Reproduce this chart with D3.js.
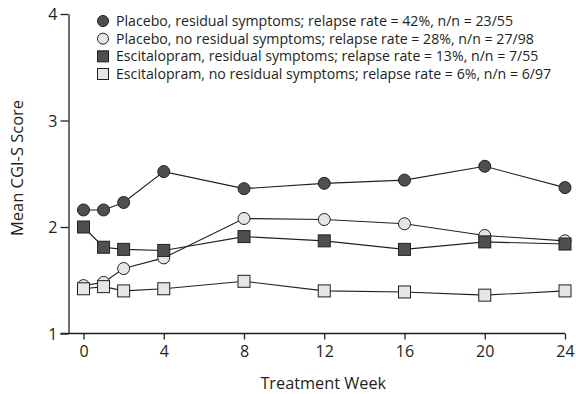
<!DOCTYPE html>
<html><head><meta charset="utf-8">
<script src="https://cdn.jsdelivr.net/npm/d3@7"></script>
<style>
html,body{margin:0;padding:0;background:#fff;}
svg{display:block;font-family:"Open Sans",sans-serif;}
</style></head>
<body>
<svg id="chart" width="576" height="394"></svg>
<script>
const weeks = [0,1,2,4,8,12,16,20,24];
const xTicks = [0,4,8,12,16,20,24];
const yTicks = [1,2,3,4];
const placeboResidual   = [2.16,2.16,2.23,2.52,2.36,2.41,2.44,2.57,2.37];
const placeboNoResidual = [1.45,1.48,1.61,1.71,2.08,2.07,2.03,1.92,1.87];
const escResidual       = [2.00,1.81,1.79,1.78,1.91,1.87,1.79,1.86,1.84];
const escNoResidual     = [1.42,1.44,1.40,1.42,1.49,1.40,1.39,1.36,1.40];
const seriesNames = [
  "Placebo, residual symptoms; relapse rate = 42%, n/n = 23/55",
  "Placebo, no residual symptoms; relapse rate = 28%, n/n = 27/98",
  "Escitalopram, residual symptoms; relapse rate = 13%, n/n = 7/55",
  "Escitalopram, no residual symptoms; relapse rate = 6%, n/n = 6/97"
];

const series = [
  {name: seriesNames[0], values: placeboResidual,   shape: "circle", fill: "#4f4f4f"},
  {name: seriesNames[1], values: placeboNoResidual, shape: "circle", fill: "#e6e6e6"},
  {name: seriesNames[2], values: escResidual,       shape: "square", fill: "#4f4f4f"},
  {name: seriesNames[3], values: escNoResidual,     shape: "square", fill: "#e6e6e6"}
];

const svg = d3.select("#chart");
const ink = "#231f20";
const x = d3.scaleLinear().domain([0,24]).range([83.5,565]);
const y = d3.scaleLinear().domain([1,4]).range([333.5,14]);
const yAxisX = 68.5;

// Y axis
const yAxis = svg.append("g").attr("transform", `translate(${yAxisX},0)`)
  .call(d3.axisLeft(y).tickValues(yTicks).tickSize(8).tickSizeOuter(0).tickFormat(d3.format("d")));
yAxis.select(".domain").attr("stroke", ink).attr("stroke-width", 1.3);
yAxis.selectAll(".tick line").attr("stroke", ink).attr("stroke-width", 1.3);
yAxis.selectAll(".tick text").attr("fill", ink).attr("font-size", 16).attr("font-family", "Open Sans").attr("x", -11).attr("dy", "0.36em");

// X axis
const xAxis = svg.append("g").attr("transform", `translate(0,${y(1)})`)
  .call(d3.axisBottom(x).tickValues(xTicks).tickSize(6).tickSizeOuter(0));
xAxis.select(".domain").remove();
xAxis.append("line").attr("x1", yAxisX - 8).attr("x2", x(24)).attr("y1", 0).attr("y2", 0)
  .attr("stroke", ink).attr("stroke-width", 1.3);
xAxis.selectAll(".tick line").attr("stroke", ink).attr("stroke-width", 1.3);
xAxis.selectAll(".tick text").attr("fill", ink).attr("font-size", 16).attr("font-family", "Open Sans").attr("y", 9).attr("dy", "0.9em");

// Axis titles
svg.append("text").attr("x", (x(0)+x(24))/2 - 1).attr("y", 389).attr("text-anchor", "middle")
  .attr("font-size", 16.3).attr("fill", ink).text("Treatment Week");
svg.append("text").attr("transform", `translate(22.5,168) rotate(-90)`)
  .attr("text-anchor", "middle").attr("font-size", 16.5).attr("fill", ink).text("Mean CGI-S Score");

// Series
const line = d3.line().x(d => x(d[0])).y(d => y(d[1]));
function drawMarker(g, shape, fill, cx, cy, size) {
  if (shape === "circle") {
    g.append("circle").attr("cx", cx).attr("cy", cy).attr("r", size/2)
      .attr("fill", fill).attr("stroke", ink).attr("stroke-width", 1);
  } else {
    g.append("rect").attr("x", cx - size/2).attr("y", cy - size/2).attr("width", size).attr("height", size)
      .attr("fill", fill).attr("stroke", ink).attr("stroke-width", 1);
  }
}
series.forEach(s => {
  const pts = weeks.map((w,i) => [w, s.values[i]]);
  const g = svg.append("g");
  g.append("path").attr("d", line(pts)).attr("fill", "none").attr("stroke", ink).attr("stroke-width", 1.1);
  pts.forEach(p => drawMarker(g, s.shape, s.fill, x(p[0]), y(p[1]), 12));
});

// Legend
const legend = svg.append("g");
const legendRowY = d3.scaleLinear().domain([0,3]).range([21,74]);
const targetWidth = 397;
series.forEach((s,i) => {
  const cy = legendRowY(i);
  drawMarker(legend, s.shape, s.fill, 103, cy, 11);
  legend.append("text").attr("class", "lt").attr("x", 116).attr("y", cy).attr("dy", "0.36em")
    .attr("font-size", 14.3).attr("fill", ink).text(s.name);
});
const widths = legend.selectAll(".lt").nodes().map(n => n.getComputedTextLength());
const k = targetWidth / widths[0];
legend.selectAll(".lt").each(function(d,i){
  d3.select(this).attr("textLength", widths[i]*k).attr("lengthAdjust", "spacingAndGlyphs");
});
</script>
</body></html>
